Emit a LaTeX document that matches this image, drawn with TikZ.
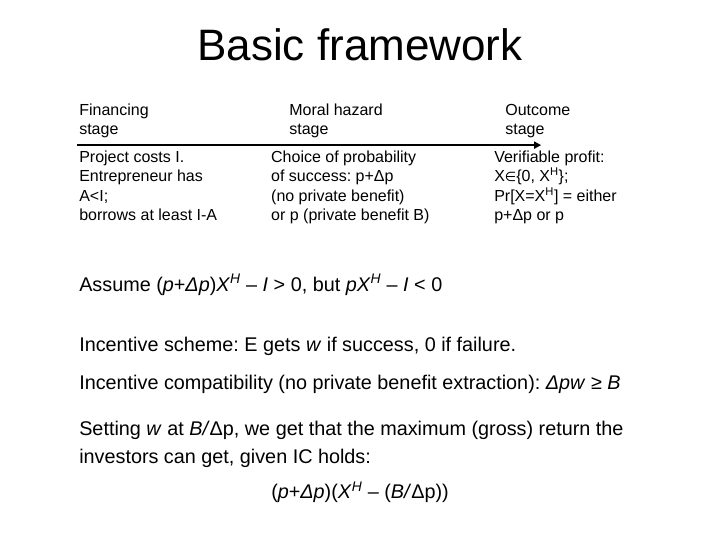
\documentclass[tikz,border=0pt]{standalone}
\usepackage{fontspec}
\setmainfont{Liberation Sans}
\newfontfamily\symfont{DejaVu Sans}
\usetikzlibrary{arrows.meta}
\frenchspacing
\newcommand{\bigtext}{\fontsize{19.8bp}{28bp}\selectfont}
\newcommand{\smalltext}{\fontsize{16bp}{19.5bp}\selectfont}
\newcommand{\XH}{\textit{X}\textsuperscript{\textit{H}}}

\begin{document}
\begin{tikzpicture}[x=1cm,y=1cm,
  stagelabel/.style={anchor=west,align=left,inner sep=0pt,font=\smalltext},
  stagetext/.style={anchor=north west,align=left,inner sep=0pt,font=\smalltext},
  bodyline/.style={anchor=west,align=left,inner sep=0pt,font=\bigtext}]
\path[use as bounding box] (0,0) rectangle (25.40,19.05);
\node[font=\fontsize{44bp}{50bp}\selectfont] (title) at (12.70,17.46) {Basic framework};
% stages above the time line
\node[stagelabel] (finstage) at (2.79,14.78) {Financing\\stage};
\node[stagelabel] (mhstage) at (10.20,14.78) {Moral hazard\\stage};
\node[stagelabel] (outstage) at (17.82,14.78) {Outcome\\stage};
\coordinate (tlstart) at (2.72,13.93);
\coordinate (tlend) at (19.09,13.93);
\draw[line width=2.2pt,-{Triangle[length=7bp,width=7bp]}] (tlstart) -- (tlend);
% what happens at each stage
\node[stagetext] (finbox) at (2.79,13.74) {Project costs I.\\Entrepreneur has\\A<I;\\borrows at least I-A};
\node[stagetext] (mhbox) at (9.56,13.74) {Choice of probability\\of success: p+Δp\\(no private benefit)\\or p (private benefit B)};
\node[stagetext] (outbox) at (17.43,13.74) {Verifiable profit:\\X{\symfont\fontsize{13bp}{16bp}\selectfont ∈}\{0, X\textsuperscript{H}\};\\Pr[X=X\textsuperscript{H}] = either\\p+Δp or p};
% body text
\node[bodyline] (assume) at (2.79,9.00) {Assume (\textit{p}+\textit{Δp})\XH{} – \textit{I} > 0, but \textit{p}\XH{} – \textit{I} < 0};
\node[bodyline] (scheme) at (2.79,6.84) {Incentive scheme: E gets \textit{w} if success, 0 if failure.};
\node[bodyline] (compat) at (2.79,5.50) {Incentive compatibility (no private benefit extraction): \textit{Δpw} ≥ \textit{B}};
\node[bodyline] (setting) at (2.79,3.39) {Setting \textit{w} at \textit{B/}Δp, we get that the maximum (gross) return the\\investors can get, given IC holds:};
\node[font=\bigtext] (payoff) at (12.70,1.69) {(\textit{p}+\textit{Δp})(\XH{} – (\textit{B/}Δp))};
\end{tikzpicture}
\end{document}
